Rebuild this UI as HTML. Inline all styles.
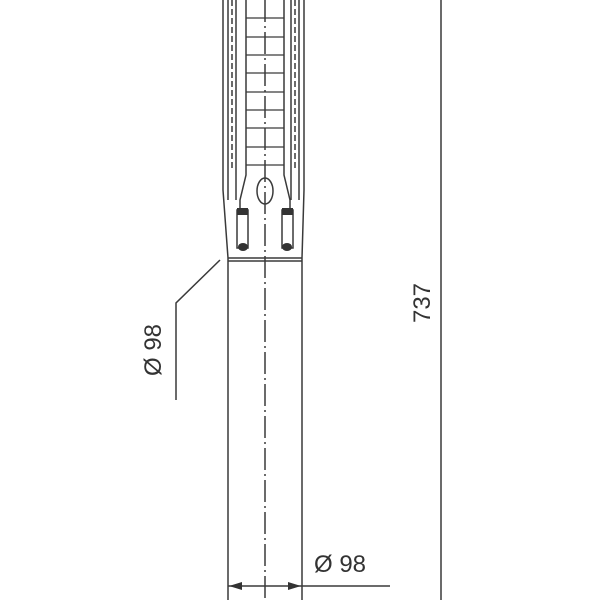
<!DOCTYPE html>
<html><head><style>html,body{margin:0;padding:0;background:#fff;}svg{display:block}</style></head>
<body>
<svg width="600" height="600" viewBox="0 0 600 600" xmlns="http://www.w3.org/2000/svg">
<g stroke="#3a3a3a" stroke-width="1.5" fill="none">
<path d="M223 0 L223 190 L228 258"/>
<path d="M228 0 L228 200"/>
<path d="M304 0 L304 190 L302 258"/>
<path d="M299 0 L299 200"/>
<line x1="232" y1="0" x2="232" y2="170" stroke-dasharray="6 3"/>
<line x1="236" y1="0" x2="236" y2="175"/>
<line x1="295" y1="0" x2="295" y2="170" stroke-dasharray="6 3"/>
<line x1="291" y1="0" x2="291" y2="175"/>
<path d="M246 0 L246 175 L240 200 L240 208"/>
<path d="M284 0 L284 175 L290 200 L290 208"/>
<path d="M236 175 L236 200"/>
<path d="M291 175 L291 200"/>
<g stroke-width="1.2">
<line x1="246" y1="18" x2="284" y2="18"/><line x1="246" y1="37" x2="284" y2="37"/>
<line x1="246" y1="55" x2="284" y2="55"/><line x1="246" y1="73" x2="284" y2="73"/>
<line x1="246" y1="92" x2="284" y2="92"/><line x1="246" y1="110" x2="284" y2="110"/>
<line x1="246" y1="128" x2="284" y2="128"/><line x1="246" y1="147" x2="284" y2="147"/>
<line x1="246" y1="165" x2="284" y2="165"/>
</g>
<ellipse cx="265" cy="191" rx="8" ry="13"/>
<rect x="237" y="210" width="11" height="38"/>
<rect x="282" y="210" width="11" height="38"/>
<line x1="228" y1="258" x2="302" y2="258"/>
<line x1="228" y1="261" x2="302" y2="261"/>
<line x1="228" y1="258" x2="228" y2="600"/>
<line x1="302" y1="258" x2="302" y2="600"/>
<line x1="265" y1="0" x2="265" y2="600" stroke-dasharray="22 4 2 4"/>
<line x1="441" y1="0" x2="441" y2="600"/>
<path d="M220 260 L176 303 L176 400"/>
<line x1="228" y1="586" x2="390" y2="586"/>
</g>
<g fill="#333">
<rect x="237" y="208" width="11" height="7"/><rect x="282" y="208" width="11" height="7"/>
<ellipse cx="243" cy="247" rx="5" ry="4"/><ellipse cx="287" cy="247" rx="5" ry="4"/>
<polygon points="229,586 242,582 242,590"/>
<polygon points="301,586 288,582 288,590"/>
</g>
<g font-family="Liberation Sans, sans-serif" font-size="24" fill="#333">
<text x="314" y="572">Ø 98</text>
<text transform="translate(161,350) rotate(-90)" text-anchor="middle">Ø 98</text>
<text transform="translate(430,303) rotate(-90)" text-anchor="middle">737</text>
</g>
</svg>
</body></html>
